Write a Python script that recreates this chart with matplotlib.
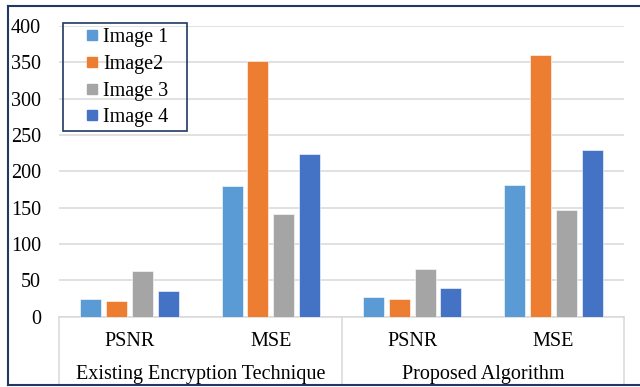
import numpy as np
import matplotlib
matplotlib.use("Agg")
import matplotlib.pyplot as plt
from matplotlib.patches import Rectangle
from matplotlib.lines import Line2D

plt.rcParams['font.family'] = ['Liberation Serif', 'DejaVu Serif']

# data
metrics_names = ['PSNR', 'MSE', 'PSNR', 'MSE']
groups = ['Existing Encryption Technique', 'Proposed Algorithm']
series = ['Image 1', 'Image2', 'Image 3', 'Image 4']
image1 = [25, 180, 27, 181]
image2 = [22, 352, 24, 360]
image3 = [63, 141, 65, 147]
image4 = [36, 224, 39, 230]
yticks = [0, 50, 100, 150, 200, 250, 300, 350, 400]

colors = ['#5B9BD5', '#ED7D31', '#A5A5A5', '#4472C4']
navy = '#203864'
grid_col = '#D9D9D9'
fs = 14.5

fig = plt.figure(figsize=(6.4, 3.87), dpi=100)
ax = fig.add_axes([59/640, 1-316.7/387, (624-59)/640, (316.7-26)/387])

x = np.arange(len(metrics_names))
step = 0.183
width = 0.149
values = [image1, image2, image3, image4]
for i, (vals, col, name) in enumerate(zip(values, colors, series)):
    ax.bar(x + (i - 1.5) * step, vals, width, color=col, label=name,
           edgecolor='white', linewidth=0.4, zorder=3)

ax.set_xlim(-0.5, len(metrics_names) - 0.5)
ax.set_ylim(0, 400)
ax.set_yticks(yticks)
ax.set_yticklabels([str(t) for t in yticks], fontsize=fs)
ax.tick_params(axis='y', length=0, pad=13)
ax.set_xticks([])
ax.yaxis.grid(True, color=grid_col, linewidth=1.1, zorder=0)
for s in ['top', 'right', 'left']:
    ax.spines[s].set_visible(False)
ax.spines['bottom'].set_color(grid_col)
ax.spines['bottom'].set_linewidth(1.1)

# two level category axis
tr = ax.get_xaxis_transform()
for xi, m in zip(x, metrics_names):
    ax.text(xi, -0.086, m, transform=tr, ha='center', va='center', fontsize=fs)
for gi, g in enumerate(groups):
    ax.text(gi * 2 + 0.5, -0.2, g, transform=tr, ha='center', va='center', fontsize=fs)
for xd in [-0.5, 1.5, 3.5]:
    ax.plot([xd, xd], [0, -0.235], transform=tr, color=grid_col, linewidth=1.1, clip_on=False)

# legend with square markers, frame drawn separately
handles = [Line2D([], [], linestyle='none', marker='s', markersize=7,
                  markerfacecolor=c, markeredgecolor=c) for c in colors]
leg = ax.legend(handles, series, loc='upper left', bbox_to_anchor=(84/640, 1-28/387),
                bbox_transform=fig.transFigure, fontsize=fs, frameon=False,
                borderaxespad=0, borderpad=0, handlelength=0.8,
                handletextpad=0.15, labelspacing=0.38)
fig.patches.append(Rectangle((62.7/640, 1-131/387), (187-62.7)/640, (131-23)/387,
                             transform=fig.transFigure, fill=False,
                             edgecolor=navy, linewidth=1.2))

# outer frame: left, top and bottom edges (right edge lies outside the image)
x0, y0, y1 = 8/640, 1-385/387, 1-6/387
for xs, ys in [([x0, x0], [y0, y1]), ([x0, 1.0], [y1, y1]), ([x0, 1.0], [y0, y0])]:
    fig.add_artist(Line2D(xs, ys, transform=fig.transFigure, color=navy, linewidth=1.5))

plt.savefig('out.png', dpi=100)
